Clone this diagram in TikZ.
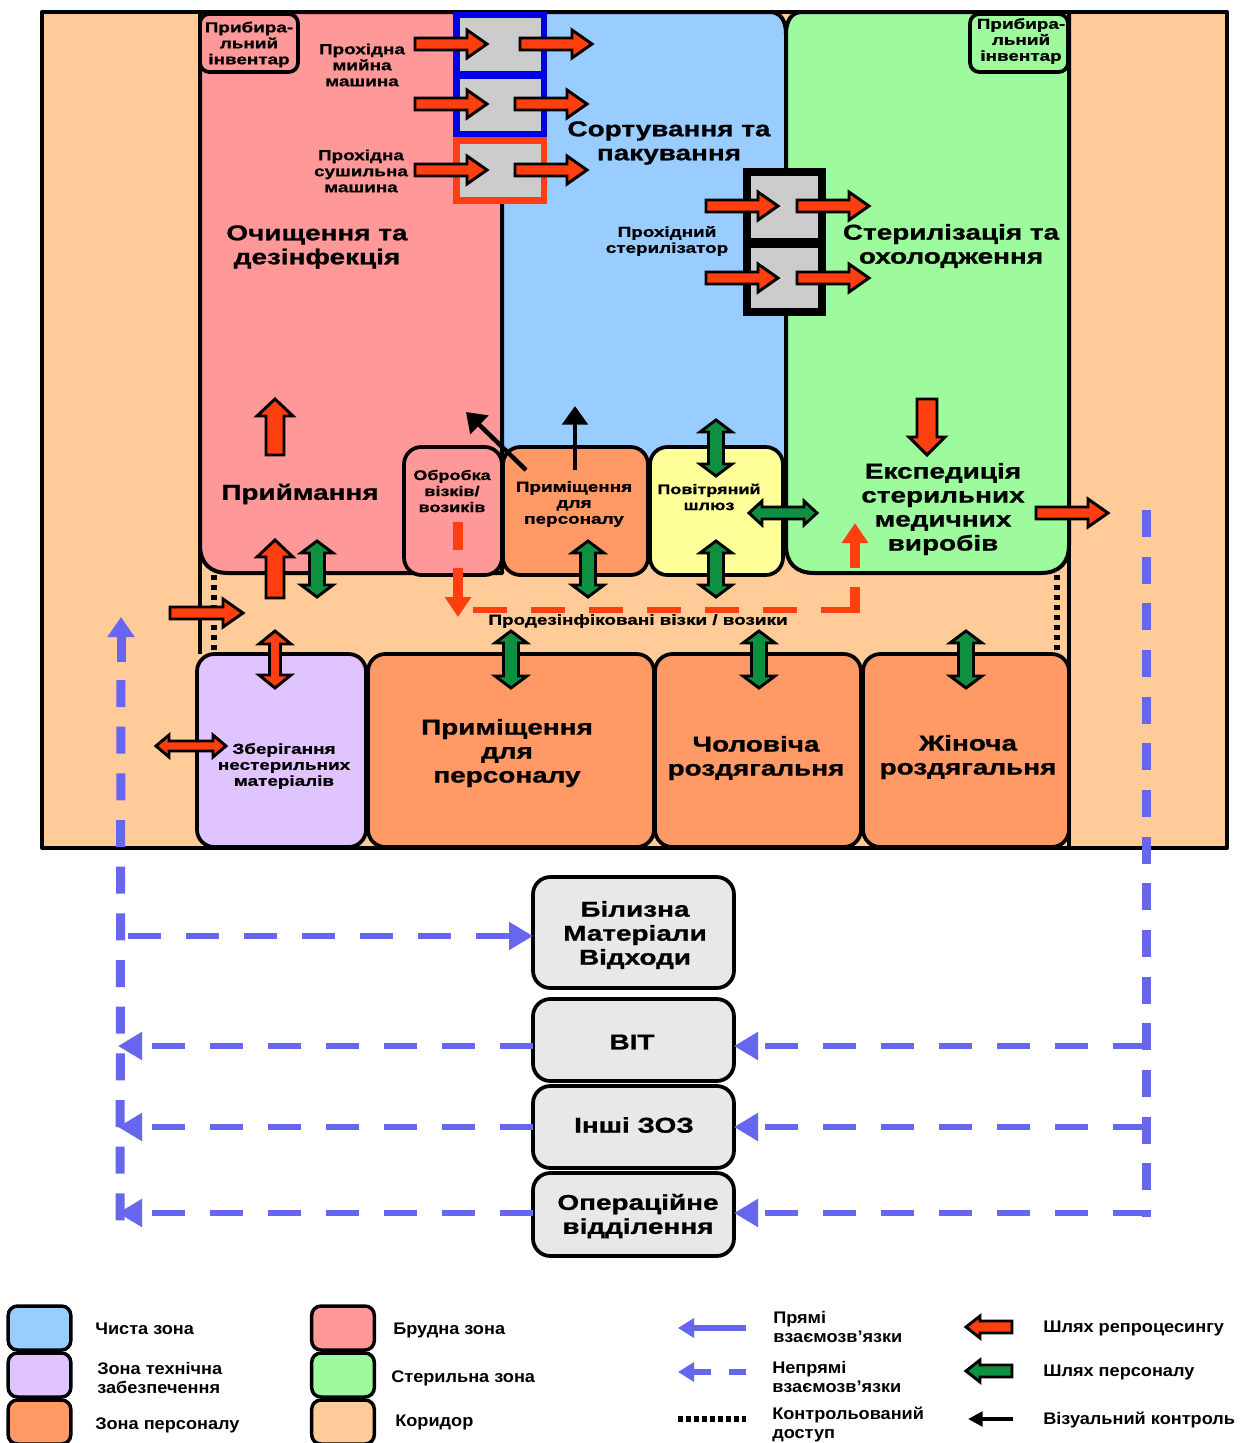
\documentclass[tikz,border=0pt]{standalone}
\usepackage{fontspec}
\setmainfont{Liberation Sans}
\newfontfamily\wf{Liberation Sans}[FakeStretch=1.3,FakeBold=1]
\newfontfamily\lf{Liberation Sans}[FakeStretch=1.08]
\usetikzlibrary{arrows.meta,calc}
\definecolor{zpink}{HTML}{FF9999}
\definecolor{zblue}{HTML}{99CCFF}
\definecolor{zgreen}{HTML}{9DFB9D}
\definecolor{zcorr}{HTML}{FFCC99}
\definecolor{zorange}{HTML}{FF9966}
\definecolor{zviolet}{HTML}{E0C4FF}
\definecolor{zyellow}{HTML}{FFFF99}
\definecolor{zgray}{HTML}{CCCCCC}
\definecolor{zbox}{HTML}{E8E8E8}
\definecolor{ared}{HTML}{FF3F0F}
\definecolor{agreen}{HTML}{0F9040}
\definecolor{ablue}{HTML}{6666EE}
\tikzset{
  wall/.style={draw=black,line width=3pt,line join=round},
  roomst/.style={draw=black,line width=2.8pt,rounded corners=13pt,inner sep=0pt,outer sep=0pt},
  smallroom/.style={roomst,rounded corners=7pt},
  barr/.style={draw=black,line width=2.2pt,line join=miter},
  lbig/.style={font={\wf\bfseries\fontsize{16.1}{18}\selectfont},align=center,inner sep=0pt,yshift=-1.5pt},
  lsm/.style={font={\wf\bfseries\fontsize{10.9}{12}\selectfont},align=center,inner sep=0pt},
  lsn/.style={font={\wf\bfseries\fontsize{10.4}{12}\selectfont},align=center,inner sep=0pt},
  leg/.style={font={\lf\bfseries\fontsize{12.6}{14.2}\selectfont},align=left,anchor=west,inner sep=0pt,yshift=-1pt},
  reddash/.style={draw=ared,line width=5.2pt,dash pattern=on 25.5pt off 18pt},
  redsolid/.style={draw=ared,line width=7.5pt},
  redhead/.style={-{Triangle[length=15pt,width=19pt]}},
  bluedash/.style={draw=ablue,line width=4.8pt,dash pattern=on 25pt off 18.5pt},
  bluev/.style={draw=ablue,line width=6.75pt,dash pattern=on 20.25pt off 14.75pt},
  bluehead/.style={-{Triangle[length=18pt,width=20pt]}},
  dotline/.style={draw=black,line width=5.2pt,dash pattern=on 3.4pt off 4.1pt},
  seen/.style={draw=black,line width=3.4pt,-{Triangle[length=14pt,width=19pt]}},
  swatch/.style={draw=black,line width=2.6pt,rounded corners=7pt,minimum width=47pt,minimum height=33pt,inner sep=0pt},
}
% single block arrow: colour, x, y, angle, length, half shaft, half head, head length
\newcommand\barrow[8]{\begin{scope}[shift={(#2,#3)},rotate=#4]
 \draw[barr,fill=#1] (0,-#6)--({#5-#8},-#6)--({#5-#8},-#7)--(#5,0)--({#5-#8},#7)--({#5-#8},#6)--(0,#6)--cycle;
\end{scope}}
% double block arrow: colour, x, y, angle, length, half shaft, half head, head length
\newcommand\darrow[8]{\begin{scope}[shift={(#2,#3)},rotate=#4]
 \draw[barr,fill=#1] (#8,-#6)--({#5-#8},-#6)--({#5-#8},-#7)--(#5,0)--({#5-#8},#7)--({#5-#8},#6)--(#8,#6)--(#8,#7)--(0,0)--(#8,-#7)--cycle;
\end{scope}}
\newcommand\room[7][roomst]{\node[#1,fill=#3,minimum width={(#6-#4)*0.75pt},minimum height={(#7-#5)*0.75pt}] (#2) at ({(#4+#6)/2},{(#5+#7)/2}) {};}
\begin{document}
\begin{tikzpicture}[x=0.75pt,y=-0.75pt]
\useasboundingbox (0,0) rectangle (1240,1443);
\fill[white] (0,0) rectangle (1240,1443);
% corridor / frame
\draw[wall,fill=zcorr] (42,12) rectangle (1227,848);
% zones
\draw[wall,fill=zpink] (200,12) -- (200,545) .. controls (200,563) and (210,573) .. (228,573) -- (502,573) -- (502,12) -- cycle;
\draw[wall,fill=zblue] (502,12) -- (502,470) -- (786,470) -- (786,34) .. controls (786,20) and (780,12) .. (770,12) -- cycle;
\draw[wall,fill=zgreen] (1069,12) -- (802,12) .. controls (792,12) and (786,20) .. (786,34) -- (786,545) .. controls (786,563) and (796,573) .. (814,573) -- (1041,573) .. controls (1059,573) and (1069,563) .. (1069,545) -- cycle;
\draw[wall] (42,12) -- (1227,12);
\draw[wall] (200,12) -- (200,654);
% rooms upper
\room[smallroom]{invl}{zpink}{200}{14}{298}{72}
\room[smallroom]{invr}{zgreen}{970}{14}{1068}{72}
\room{cart}{zpink}{404}{447}{502}{575}
\room{staffs}{zorange}{503}{447}{648}{575}
\room{lock}{zyellow}{650}{447}{783}{575}
% rooms lower
\room{stor}{zviolet}{197}{654}{366}{847}
\room{stafb}{zorange}{368}{654}{654}{847}
\room{men}{zorange}{655}{654}{861}{847}
\room{women}{zorange}{863}{654}{1069}{847}
\draw[wall] (1069,12) -- (1069,848);
% machines
\fill[blue!90!black] (453,12) rectangle (547,137);
\fill[zgray] (460,18) rectangle (541,71);
\fill[zgray] (460,79) rectangle (541,131);
\fill[ared] (453,137) rectangle (547,204);
\fill[zgray] (460,144) rectangle (541,197);
\fill[black] (743,168) rectangle (826,316);
\fill[zgray] (751,176) rectangle (818,238);
\fill[zgray] (751,248) rectangle (818,308);
% corridor dotted doors
\coordinate (dl1) at (214,575); \coordinate (dl2) at (214,654);
\coordinate (dr1) at (1057,575); \coordinate (dr2) at (1057,654);
\draw[dotline] (dl1) -- (dl2);
\draw[dotline] (dr1) -- (dr2);
% red process arrows
\barrow{ared}{415}{44}{0}{72}{6}{14}{20}
\barrow{ared}{520}{44}{0}{72}{6}{14}{20}
\barrow{ared}{415}{104}{0}{72}{6}{14}{20}
\barrow{ared}{515}{104}{0}{72}{6}{14}{20}
\barrow{ared}{415}{170}{0}{72}{6}{14}{20}
\barrow{ared}{515}{170}{0}{72}{6}{14}{20}
\barrow{ared}{706}{206}{0}{72}{6}{14}{20}
\barrow{ared}{797}{206}{0}{72}{6}{14}{20}
\barrow{ared}{706}{278}{0}{72}{6}{14}{20}
\barrow{ared}{797}{278}{0}{72}{6}{14}{20}
\barrow{ared}{275}{455}{90}{56}{9}{18}{17}
\barrow{ared}{275}{598}{90}{58}{9}{18}{17}
\barrow{ared}{170}{613}{0}{73}{6}{14}{20}
\barrow{ared}{927}{399}{-90}{56}{10}{18}{18}
\barrow{ared}{1036}{513}{0}{72}{6}{14}{20}
\darrow{ared}{275}{688}{90}{57}{5.5}{16}{13}
\darrow{ared}{156}{746}{0}{70}{5}{11}{13}
% green staff arrows
\darrow{agreen}{317}{597}{90}{56}{7.5}{16}{12}
\darrow{agreen}{588}{597}{90}{56}{7.5}{16}{12}
\darrow{agreen}{716}{476}{90}{56}{7.5}{16}{12}
\darrow{agreen}{716}{597}{90}{56}{7.5}{16}{12}
\darrow{agreen}{749}{513}{0}{68}{6}{12}{13}
\darrow{agreen}{511}{688}{90}{57}{7.5}{16}{12}
\darrow{agreen}{759}{688}{90}{57}{7.5}{16}{12}
\darrow{agreen}{966}{688}{90}{57}{7.5}{16}{12}
% visual control
\coordinate (v1s) at (526,470); \coordinate (v1e) at (466,412);
\coordinate (v2s) at (575,470); \coordinate (v2e) at (575,406);
\draw[seen] (v1s) -- (v1e);
\draw[seen] (v2s) -- (v2e);
% red dashed path
\coordinate (r1) at (458,522); \coordinate (r1b) at (458,550);
\coordinate (r2a) at (458,568); \coordinate (r2) at (458,617);
\coordinate (r3) at (473,610); \coordinate (r4) at (858.5,610);
\coordinate (r5a) at (855,613); \coordinate (r5b) at (855,587);
\coordinate (r6a) at (855,568); \coordinate (r6) at (855,523);
\draw[redsolid] (r1) -- (r1b);
\draw[redsolid,redhead] (r2a) -- (r2);
\draw[reddash] (r3) -- (r4);
\draw[redsolid] (r5a) -- (r5b);
\draw[redsolid,redhead] (r6a) -- (r6);
% central boxes
\room{bil}{zbox}{533}{877}{734}{988}
\room{vit}{zbox}{533}{999}{734}{1081}
\room{izo}{zbox}{533}{1086}{734}{1168}
\room{opr}{zbox}{533}{1173}{734}{1256}
% blue dashed paths
\coordinate (lh) at (121,662); \coordinate (lt) at (121,617);
\coordinate (ls) at (121,680); \coordinate (lb) at (120,1222);
\coordinate (lo) at (118,1213);
\coordinate (lm) at (128,936); \coordinate (lv) at (118,1046); \coordinate (li) at (118,1127);
\coordinate (rt) at (1146,510); \coordinate (rb) at (1146,1217);
\coordinate (rv) at (1146,1046); \coordinate (ri) at (1146,1127); \coordinate (ro) at (1146,1213);
\draw[draw=ablue,line width=6.75pt,-{Triangle[length=15pt,width=19.5pt]}] (lh) -- (lt);
\draw[bluev] (ls) -- (lb);
\draw[bluev] (rt) -- (rb);
\draw[bluedash,bluehead] (rv) -- (vit.east |- rv);
\draw[bluedash,bluehead] (ri) -- (izo.east |- ri);
\draw[bluedash,bluehead] (ro) -- (opr.east |- ro);
\draw[bluedash,bluehead] (lm) -- (bil.west |- lm);
\draw[bluedash,bluehead] (vit.west |- lv) -- (lv);
\draw[bluedash,bluehead] (izo.west |- li) -- (li);
\draw[bluedash,bluehead] (opr.west |- lo) -- (lo);
% labels
\node[lsm] (t1) at (249,44.5) {Прибира-\\льний\\інвентар};
\node[lsm] (t2) at (1021,41) {Прибира-\\льний\\інвентар};
\node[lsm] (t3) at (362,65) {Прохідна\\мийна\\машина};
\node[lsm] (t4) at (361,171) {Прохідна\\сушильна\\машина};
\node[lbig] (t5) at (669,141) {Сортування та\\пакування};
\node[lbig] (t6) at (317,245) {Очищення та\\дезінфекція};
\node[lsm] (t7) at (667,241) {Прохідний\\стерилізатор};
\node[lbig] (t8) at (951,244) {Стерилізація та\\охолодження};
\node[lbig] (t9) at (300,492) {Приймання};
\node[lsn] (t10) at (452,491) {Обробка\\візків/\\возиків};
\node[lsm] (t11) at (574,504) {Приміщення\\для\\персоналу};
\node[lsn] (t12) at (709,497) {Повітряний\\шлюз};
\node[lbig] (t13) at (943,507) {Експедиція\\стерильних\\медичних\\виробів};
\node[lsm] (t14) at (638,621) {Продезінфіковані візки / возики};
\node[lsm] (t15) at (284,766) {Зберігання\\нестерильних\\матеріалів};
\node[lbig] (t16) at (507,751) {Приміщення\\для\\персоналу};
\node[lbig] (t17) at (756,756) {Чоловіча\\роздягальня};
\node[lbig] (t18) at (968,755) {Жіноча\\роздягальня};
\node[lbig] (t19) at (635,933) {Білизна\\Матеріали\\Відходи};
\node[lbig] (t20) at (632,1040) {ВІТ};
\node[lbig] (t21) at (634,1123) {Інші ЗОЗ};
\node[lbig] (t22) at (638,1214) {Операційне\\відділення};
% legend
\node[swatch,fill=zblue] (s1) at (39.5,1328) {};
\node[swatch,fill=zviolet] (s2) at (39.5,1375) {};
\node[swatch,fill=zorange] (s3) at (39.5,1422) {};
\node[swatch,fill=zpink] (s4) at (343,1328) {};
\node[swatch,fill=zgreen] (s5) at (343,1375) {};
\node[swatch,fill=zcorr] (s6) at (343,1422) {};
\node[leg] (g1) at (95,1327) {Чиста зона};
\node[leg] (g2) at (97,1377) {Зона технічна\\забезпечення};
\node[leg] (g3) at (95,1424) {Зона персоналу};
\node[leg] (g4) at (393,1329) {Брудна зона};
\node[leg] (g5) at (391,1377) {Стерильна зона};
\node[leg] (g6) at (395,1421) {Коридор};
\node[leg] (g7) at (773,1326) {Прямі\\взаємозв’язки};
\node[leg] (g8) at (772,1376) {Непрямі\\взаємозв’язки};
\node[leg] (g9) at (772,1423) {Контрольований\\доступ};
\node[leg] (g10) at (1043,1327) {Шлях репроцесингу};
\node[leg] (g11) at (1043,1371) {Шлях персоналу};
\node[leg] (g12) at (1043,1419) {Візуальний контроль};
\coordinate (k1) at (746,1328); \coordinate (k2) at (678,1328);
\coordinate (k3) at (746,1372); \coordinate (k4) at (678,1372);
\coordinate (k5) at (678,1419); \coordinate (k6) at (746,1419);
\coordinate (k7) at (1013,1419); \coordinate (k8) at (968,1419);
\draw[draw=ablue,line width=4.5pt,-{Triangle[length=12pt,width=14pt]}] (k1) -- (k2);
\draw[draw=ablue,line width=5pt,dash pattern=on 13pt off 13pt,-{Triangle[length=12pt,width=14pt]}] (k3) -- (k4);
\draw[draw=black,line width=3.8pt,dash pattern=on 3.4pt off 2.6pt] (k5) -- (k6);
\draw[draw=black,line width=2.6pt,-{Triangle[length=11pt,width=11pt]}] (k7) -- (k8);
\barrow{ared}{1012}{1327}{180}{46}{6}{11}{14}
\barrow{agreen}{1012}{1371}{180}{46}{6}{11}{14}
\end{tikzpicture}
\end{document}
